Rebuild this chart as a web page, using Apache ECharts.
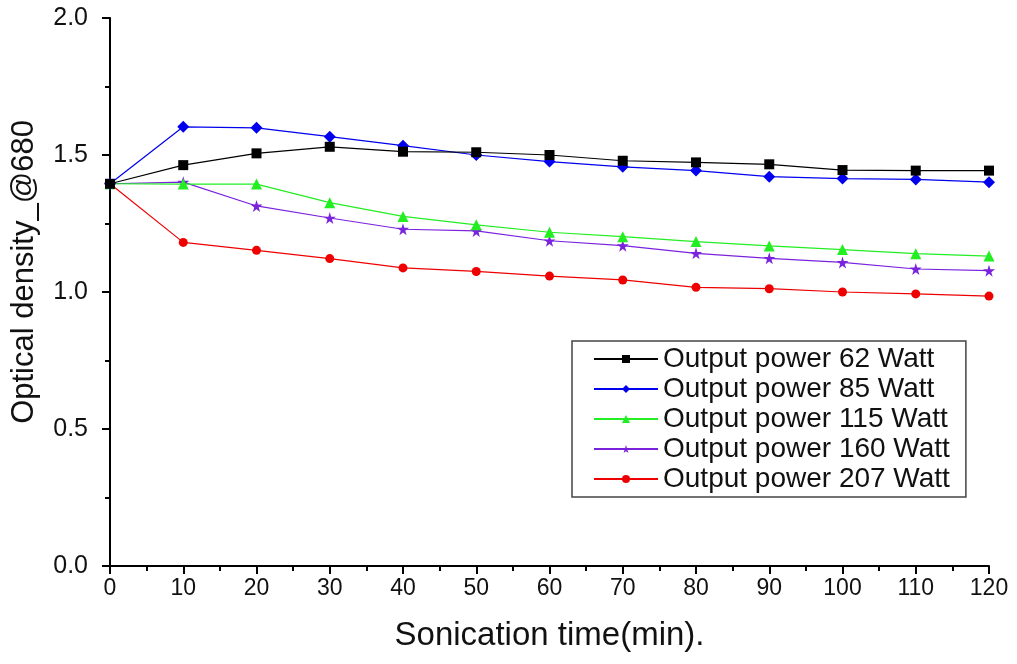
<!DOCTYPE html>
<html>
<head>
<meta charset="utf-8">
<script src="https://cdn.jsdelivr.net/npm/echarts@6/dist/echarts.min.js"></script>
<style>html,body{margin:0;padding:0;background:#fff;}#c{width:1017px;height:664px;}</style>
</head>
<body>
<div id="c"></div>
<script>
const times = [0, 10, 20, 30, 40, 50, 60, 70, 80, 90, 100, 110, 120];
const seriesNames = ['Output power 62 Watt', 'Output power 85 Watt', 'Output power 115 Watt', 'Output power 160 Watt', 'Output power 207 Watt'];
const od62  = [1.395, 1.463, 1.506, 1.530, 1.512, 1.510, 1.500, 1.479, 1.473, 1.466, 1.445, 1.443, 1.443];
const od85  = [1.395, 1.603, 1.599, 1.567, 1.534, 1.500, 1.476, 1.457, 1.443, 1.421, 1.414, 1.411, 1.401];
const od115 = [1.395, 1.394, 1.394, 1.326, 1.276, 1.245, 1.218, 1.202, 1.184, 1.168, 1.155, 1.140, 1.131];
const od160 = [1.395, 1.401, 1.314, 1.270, 1.229, 1.223, 1.187, 1.169, 1.141, 1.123, 1.108, 1.084, 1.078];
const od207 = [1.395, 1.181, 1.152, 1.122, 1.088, 1.075, 1.058, 1.044, 1.017, 1.012, 1.000, 0.993, 0.985];
const yTicks = ['0.0', '0.5', '1.0', '1.5', '2.0'];

const colors = ['#000000', '#0000ee', '#22ee22', '#7a22dd', '#ee0000'];
const symbols = ['rect', 'diamond', 'triangle', 'path://M50,0 L61,35 L98,35 L68,57 L79,91 L50,70 L21,91 L32,57 L2,35 L39,35 Z', 'circle'];
const sizes = [10, 12, 11, 12, 9];
const allData = [od62, od85, od115, od160, od207];

const chart = echarts.init(document.getElementById('c'));
const font = '"Liberation Sans", Arial, sans-serif';
chart.setOption({
  animation: false,
  backgroundColor: '#fff',
  grid: { left: 110, right: 28, top: 18, bottom: 98 },
  xAxis: {
    type: 'value', min: 0, max: 120, interval: 10,
    name: 'Sonication time(min).', nameLocation: 'middle', nameGap: 53,
    nameTextStyle: { fontFamily: font, fontSize: 33, color: '#111' },
    axisLine: { show: true, onZero: false, lineStyle: { color: '#000', width: 2 } },
    axisTick: { show: true, inside: false, length: 8, lineStyle: { color: '#000', width: 2 } },
    minorTick: { show: true, splitNumber: 2, length: 5, lineStyle: { color: '#000', width: 2 } },
    splitLine: { show: false },
    axisLabel: { fontFamily: font, fontSize: 23, color: '#111', margin: 11 }
  },
  yAxis: {
    type: 'value', min: 0, max: 2, interval: 0.5,
    name: 'Optical density_@680', nameLocation: 'middle', nameGap: 70,
    nameTextStyle: { fontFamily: font, fontSize: 31, color: '#111', padding: [0, 0, 0, 40] },
    axisLine: { show: true, onZero: false, lineStyle: { color: '#000', width: 2 } },
    axisTick: { show: true, inside: false, length: 8, lineStyle: { color: '#000', width: 2 } },
    minorTick: { show: true, splitNumber: 2, length: 5, lineStyle: { color: '#000', width: 2 } },
    splitLine: { show: false },
    axisLabel: { fontFamily: font, fontSize: 25, color: '#111', margin: 22,
      formatter: function (v) { return yTicks[Math.round(v / 0.5)]; } }
  },
  legend: {
    orient: 'vertical', left: 572, top: 341,
    data: seriesNames,
    itemWidth: 64, itemHeight: 10, itemGap: 2,
    padding: [4, 16, 4, 21],
    borderColor: '#444', borderWidth: 1.5,
    textStyle: { fontFamily: font, fontSize: 28, color: '#111', lineHeight: 28 }
  },
  series: seriesNames.map(function (n, i) {
    return {
      name: n, type: 'line',
      data: times.map(function (t, j) { return [t, allData[i][j]]; }),
      symbol: symbols[i], symbolSize: sizes[i],
      itemStyle: { color: colors[i] },
      lineStyle: { color: colors[i], width: 1.2 },
      z: 10 - i
    };
  })
});
</script>
</body>
</html>
